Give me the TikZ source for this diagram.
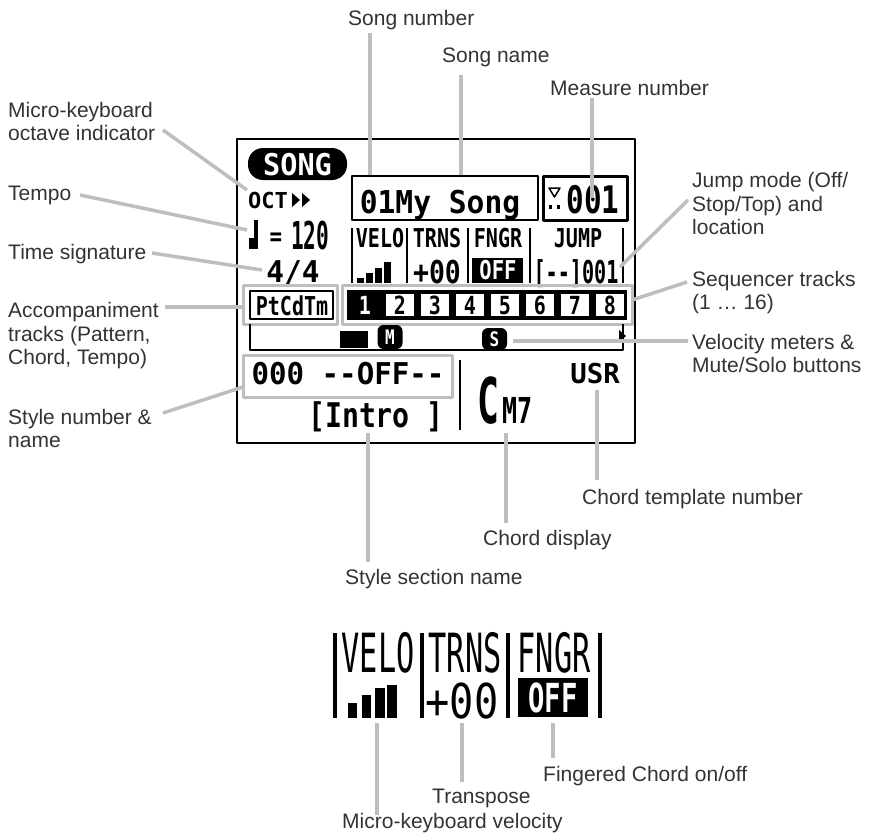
\documentclass[tikz,border=0pt]{standalone}
\usepackage{fontspec}
\usepackage{graphicx}
\setmainfont{Liberation Sans}
\newfontfamily\lcdfont{DejaVu Sans Mono}
\newcommand\lcd[3]{\scalebox{#1}[1]{\fontsize{#2}{#2}\selectfont\lcdfont\bfseries #3}}
\newcommand\lcdthin[3]{\scalebox{#1}[1]{\fontsize{#2}{#2}\selectfont\lcdfont #3}}
\definecolor{leadgray}{HTML}{BEBEC2}
\definecolor{labelgray}{HTML}{333333}
\begin{document}
\begin{tikzpicture}[x=1pt,y=-1pt,line join=round,
	lead/.style={draw=leadgray,line width=3.5pt},
	frame/.style={draw=leadgray,line width=3pt,inner sep=0},
	lcdline/.style={line width=2.5pt},
	lbl/.style={inner sep=0,anchor=base west,align=left,text=labelgray,font=\fontsize{21}{23.5}\selectfont},
	lcdtxt/.style={inner sep=0,anchor=base}]
	\useasboundingbox (0,0) rectangle (875,840);
	\draw[lcdline] (237,139) rectangle (635,443);
	\fill[rounded corners=15] (248,148) rectangle (347,180);
	\node[lcdtxt,text=white] (song) at (297.5,175) {\lcd{0.95}{30}{SONG}};
	\node[lcdtxt,anchor=base west] (oct) at (248,208) {\lcd{1}{22}{OCT}};
	\fill (292,193) -- (300,200) -- (292,207) -- cycle;
	\fill (302,193) -- (310,200) -- (302,207) -- cycle;
	\fill (249,238) rectangle (258,249);
	\fill (254,220) rectangle (258,249);
	\node[lcdtxt] (eq) at (276,245) {\lcd{0.8}{26}{=}};
	\node[lcdtxt,anchor=base west] (tempo) at (291,249) {\lcd{0.55}{38.4}{120}};
	\node[lcdtxt] (timesig) at (293,282) {\lcd{0.98}{30}{4/4}};
	\node[draw,lcdline,inner sep=0,minimum width=186,minimum height=44] (songbox) at (445,198) {};
	\node[lcdtxt] (songname) at (440,213) {\lcd{0.94}{31.5}{01My Song}};
	\node[draw,line width=3pt,inner sep=0,minimum width=84,minimum height=44] (measbox) at (585,198) {};
	\draw[line width=1.5pt] (549,188) -- (560,188) -- (554.5,197) -- cycle;
	\fill (549,205) rectangle (552,209);
	\fill (557,205) rectangle (560,209);
	\node[lcdtxt] (measure) at (593,213) {\lcd{0.77}{38}{001}};
	\foreach \x in {352,407,468,530,623}
		\draw[lcdline] (\x,228) -- (\x,283);
	\foreach \x/\t in {380/VELO,437/TRNS,498/FNGR,578/JUMP}
		\node[lcdtxt] (h\t) at (\x,247) {\lcd{0.77}{26}{\t}};
	\foreach \x/\h in {357/5,366/10,375/15,384/21}
		\fill (\x,283) rectangle ++(7,-\h);
	\node[lcdtxt] (trns) at (437,283) {\lcd{0.84}{31.5}{+00}};
	\node[fill=black,inner sep=0,minimum width=51,minimum height=25] (offbox) at (497.5,270.5) {};
	\node[lcdtxt,text=white] (fngr) at (498,279) {\lcd{0.79}{26}{OFF}};
	\node[lcdtxt] (jump) at (576,283) {\lcd{0.64}{31.5}{[--]001}};
	\node[frame,minimum width=94,minimum height=39] (accbox) at (290,304.5) {};
	\draw[lcdline] (250,291) rectangle (333,319);
	\node[lcdtxt] (acc) at (292,315) {\lcd{0.77}{26}{PtCdTm}};
	\node[frame,minimum width=290,minimum height=39] (trkbox) at (487,304.5) {};
	\fill (347,290) rectangle (627,320);
	\foreach \i in {2,...,8}
		\fill[white] ({347+35*(\i-1)+4},294) rectangle ({347+35*\i-3},316);
	\node[lcdtxt,text=white] (t1) at (365,314) {\lcd{0.8}{25}{1}};
	\foreach \i in {2,...,8}
		\node[lcdtxt] (t\i) at ({347+35*\i-17},314) {\lcd{0.8}{25}{\i}};
	\draw[lcdline] (250,324) -- (250,350) -- (623,350) -- (623,324);
	\fill (340,331) rectangle (368,348);
	\node[fill=black,rounded corners=6,inner sep=0,minimum width=25,minimum height=24,text=white] (mute) at (390,337) {\lcd{0.8}{20}{M}};
	\node[fill=black,rounded corners=6,inner sep=0,minimum width=25,minimum height=22,text=white] (solo) at (494.5,339) {\lcd{0.8}{20}{S}};
	\fill (619,330) -- (626,336) -- (619,342) -- cycle;
	\node[frame,minimum width=209,minimum height=42] (stylebox) at (347.5,376) {};
	\node[lcdtxt] (stylenum) at (348,384) {\lcd{0.97}{30}{000 --OFF--}};
	\node[lcdtxt] (section) at (376,427) {\lcd{0.83}{34}{[Intro ]}};
	\draw[lcdline] (460,360) -- (460,430);
	\node[lcdtxt,anchor=base west] (chord) at (477,423) {\lcd{0.58}{63}{C}};
	\node[lcdtxt,anchor=base west] (chordtype) at (502,423) {\lcd{0.7}{35.7}{M7}};
	\node[lcdtxt] (usr) at (595,383) {\lcd{1}{27.4}{USR}};
	\foreach \x in {335,422,508,600}
		\draw[line width=3.5pt] (\x,633) -- (\x,718);
	\foreach \x/\t in {378/VELO,465/TRNS,554/FNGR}
		\node[lcdtxt] (z\t) at (\x,672) {\lcdthin{0.56}{54}{\t}};
	\foreach \x/\w/\h in {348/9/15,362/9/23,375/10/30,387/10/33}
		\fill (\x,718) rectangle ++(\w,-\h);
	\node[lcdtxt] (ztrns) at (462,718) {\lcdthin{0.84}{48}{+00}};
	\node[fill=black,inner sep=0,minimum width=70,minimum height=39] (zoffbox) at (553,697.5) {};
	\node[lcdtxt,text=white] (zfngr) at (553,712) {\lcd{0.68}{40}{OFF}};
	\node[lbl] (lSongNum) at (348,25.5) {Song number};
	\node[lbl] (lSongName) at (442,62.5) {Song name};
	\node[lbl] (lMeasure) at (550,95.5) {Measure number};
	\node[lbl] (lOct) at (8,140.5) {Micro-keyboard\\octave indicator};
	\node[lbl] (lTempo) at (8,200.5) {Tempo};
	\node[lbl] (lTime) at (8,259.5) {Time signature};
	\node[lbl] (lAcc) at (8,364.5) {Accompaniment\\tracks (Pattern,\\Chord, Tempo)};
	\node[lbl] (lStyleNum) at (8,447.5) {Style number \&\\name};
	\node[lbl] (lJump) at (692,234.5) {Jump mode (Off/\\Stop/Top) and\\location};
	\node[lbl] (lSeq) at (692,309.5) {Sequencer tracks\\(1 … 16)};
	\node[lbl] (lVelo) at (692,372.5) {Velocity meters \&\\Mute/Solo buttons};
	\node[lbl] (lChordTpl) at (582,504.5) {Chord template number};
	\node[lbl] (lChordDisp) at (483,545.5) {Chord display};
	\node[lbl] (lStyleSec) at (345,584.5) {Style section name};
	\node[lbl] (lFngr) at (543,781) {Fingered Chord on/off};
	\node[lbl] (lTrns) at (432,803) {Transpose};
	\node[lbl] (lKbdVelo) at (342,828) {Micro-keyboard velocity};
	\coordinate (aSongNum) at (370,33);
	\coordinate (aSongName) at (461,75);
	\coordinate (aMeasure) at (592,98);
	\coordinate (aOct) at (163,130);
	\coordinate (bOct) at (247,190);
	\coordinate (aTempo) at (80,195);
	\coordinate (bTempo) at (247,230);
	\coordinate (aTime) at (152,253);
	\coordinate (bTime) at (262,270);
	\coordinate (aAcc) at (165,307);
	\coordinate (aStyleNum) at (163,413);
	\coordinate (bStyleNum) at (243,387);
	\coordinate (aJump) at (688,200);
	\coordinate (bJump) at (620,267);
	\coordinate (aSeq) at (687,282);
	\coordinate (bSeq) at (632,300);
	\coordinate (aVelo) at (688,341);
	\coordinate (bVelo) at (513,341);
	\coordinate (aChordTpl) at (597,390);
	\coordinate (bChordTpl) at (597,480);
	\coordinate (aChordDisp) at (506,433);
	\coordinate (bChordDisp) at (506,523);
	\coordinate (aStyleSec) at (368,433);
	\coordinate (bStyleSec) at (368,562);
	\coordinate (aKbdVelo) at (377,723);
	\coordinate (bKbdVelo) at (377,815);
	\coordinate (aTrns) at (462,723);
	\coordinate (bTrns) at (462,782);
	\coordinate (aFngr) at (553,723);
	\coordinate (bFngr) at (553,758);
	\draw[lead] (aSongNum) -- (aSongNum |- songbox.north);
	\draw[lead] (aSongName) -- (aSongName |- songbox.north);
	\draw[lead] (aMeasure) -- (aMeasure |- measbox.center);
	\draw[lead] (aOct) -- (bOct);
	\draw[lead] (aTempo) -- (bTempo);
	\draw[lead] (aTime) -- (bTime);
	\draw[lead] (aAcc) -- (aAcc -| accbox.west);
	\draw[lead] (aStyleNum) -- (bStyleNum);
	\draw[lead] (aJump) -- (bJump);
	\draw[lead] (aSeq) -- (bSeq);
	\draw[lead] (aVelo) -- (bVelo);
	\draw[lead] (aChordTpl) -- (bChordTpl);
	\draw[lead] (aChordDisp) -- (bChordDisp);
	\draw[lead] (aStyleSec) -- (bStyleSec);
	\draw[lead] (aKbdVelo) -- (bKbdVelo);
	\draw[lead] (aTrns) -- (bTrns);
	\draw[lead] (aFngr) -- (bFngr);
\end{tikzpicture}
\end{document}
